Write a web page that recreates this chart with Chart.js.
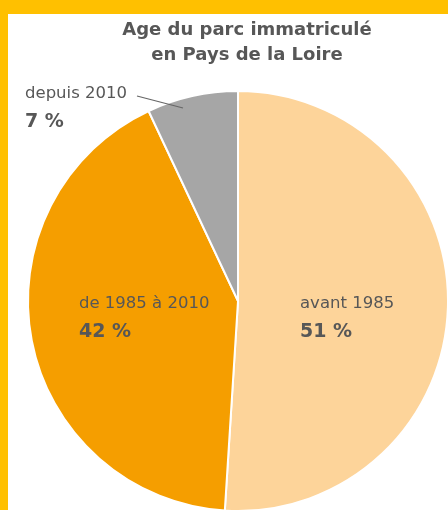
<!DOCTYPE html>
<html>
<head>
<meta charset="utf-8">
<script src="https://cdn.jsdelivr.net/npm/chart.js@4"></script>
<style>
  html, body { margin: 0; padding: 0; overflow: hidden; background: #fff; }
  #wrap { width: 448px; height: 510px; overflow: hidden; position: relative; }
  canvas { position: absolute; left: 0; top: 0; }
</style>
</head>
<body>
<div id="wrap"><canvas id="pie" width="460" height="520"></canvas></div>
<script>
// data
const categories = ['avant 1985', 'de 1985 à 2010', 'depuis 2010'];
const shares = [51, 42, 7];
const sliceColors = ['#fdd49a', '#f59e00', '#a6a6a6'];
const titleLines = ['Age du parc immatriculé', 'en Pays de la Loire'];

// where each label is written (left end of the category line)
const labelPos = [[300, 308], [79, 308], [25, 98]];
const textColor = '#575757';
const fontFamily = '"DejaVu Sans", sans-serif';

// yellow frame + white panel behind the chart
const framePlugin = {
    id: 'frame',
    beforeDraw(chart) {
        const c = chart.ctx;
        c.save();
        c.fillStyle = '#ffc000';
        c.fillRect(0, 0, chart.width, chart.height);
        c.fillStyle = '#ffffff';
        c.fillRect(8, 14, chart.width, chart.height);
        c.restore();
    }
};

// title, slice labels and leader line
const labelPlugin = {
    id: 'labels',
    afterDraw(chart) {
        const c = chart.ctx;
        c.save();
        c.fillStyle = textColor;
        c.textBaseline = 'alphabetic';

        c.textAlign = 'center';
        c.font = 'bold 18px ' + fontFamily;
        c.fillText(titleLines[0], 247, 35);
        c.fillText(titleLines[1], 247, 60);

        c.textAlign = 'left';
        categories.forEach((cat, i) => {
            const [x, y] = labelPos[i];
            c.font = '16.5px ' + fontFamily;
            c.fillText(cat, x, y);
            c.font = 'bold 19px ' + fontFamily;
            c.fillText(shares[i] + ' %', x, y + 29);
        });

        // leader for the small slice
        c.strokeStyle = '#666666';
        c.lineWidth = 1.2;
        c.beginPath();
        c.moveTo(137, 96);
        c.lineTo(183, 108);
        c.stroke();
        c.restore();
    }
};

const ctx = document.getElementById('pie').getContext('2d');
const pieChart = new Chart(ctx, {
    type: 'pie',
    data: {
        labels: categories,
        datasets: [{
            data: shares,
            backgroundColor: sliceColors,
            borderColor: '#ffffff',
            borderWidth: 2,
        }]
    },
    options: {
        responsive: false,
        animation: false,
        layout: {
            padding: { left: 27, top: 90, right: 11, bottom: 8 }
        },
        plugins: {
            legend: { display: false },
            tooltip: { enabled: false },
            title: { display: false },
        },
    },
    plugins: [framePlugin, labelPlugin]
});
</script>
</body>
</html>
